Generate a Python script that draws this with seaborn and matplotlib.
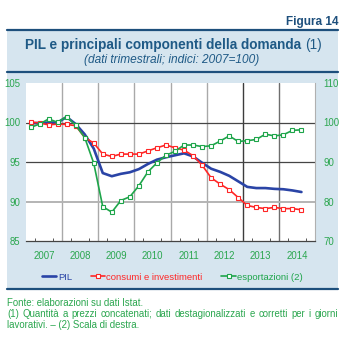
import numpy as np
import pandas as pd
import matplotlib
matplotlib.use("Agg")
import matplotlib.pyplot as plt
from matplotlib.lines import Line2D
from matplotlib.patches import Rectangle
import seaborn as sns

# ---------------- data ----------------
years = ["2007", "2008", "2009", "2010", "2011", "2012", "2013", "2014"]
pil = [99.9, 99.95, 100.0, 100.0, 100.7, 99.8, 98.5, 96.7,
       93.6, 93.2, 93.5, 93.7, 94.1, 94.75, 95.3, 95.6,
       95.85, 96.1, 95.7, 94.9, 94.15, 93.75, 93.25, 92.55,
       91.85, 91.7, 91.7, 91.6, 91.55, 91.4, 91.2]
consumi = [100.05, 99.95, 99.7, 99.8, 99.75, 99.6, 98.1, 97.4,
           96.0, 95.7, 96.0, 96.0, 96.0, 96.4, 96.8, 97.15,
           96.8, 96.5, 95.8, 94.6, 93.0, 92.2, 91.5, 90.5,
           89.5, 89.25, 89.1, 89.25, 89.1, 89.1, 88.95]
esportazioni = [98.75, 99.6, 100.9, 100.05, 101.5, 99.3, 96.2, 89.7,
                78.7, 77.3, 80.25, 81.2, 84.0, 87.5, 89.8, 91.7,
                92.7, 94.3, 94.3, 93.9, 94.1, 95.3, 96.6, 95.2,
                95.4, 95.7, 97.05, 96.6, 96.9, 98.0, 98.15]
left_ticks = [85, 90, 95, 100, 105]
right_ticks = [70, 80, 90, 100, 110]
legend_labels = ["PIL", "consumi e investimenti", "esportazioni (2)"]

# ---------------- style ----------------
sns.set_style("white")
plt.rcParams["font.family"] = ["Liberation Sans", "DejaVu Sans"]

GREEN_TXT = "#2aa64e"
DARK_BLUE = "#1d4f7c"
TITLE_BLUE = "#1f5a86"
PANEL = "#d6e5ef"
C_PIL = "#2a44a6"
C_CONS = "#ff2626"
C_EXP = "#1ea54a"

W, H = 350, 348
fig = plt.figure(figsize=(W / 100, H / 100), dpi=100)
fig.patch.set_facecolor("white")

def fx(px):
    return px / W

def fy(py):
    return 1 - py / H

# panel background and rules
fig.patches.append(Rectangle((fx(7), fy(289)), fx(338) - fx(7), fy(30) - fy(289),
                             transform=fig.transFigure, facecolor=PANEL,
                             edgecolor="none", zorder=-5))
for yy in (30, 72, 289):
    fig.add_artist(Line2D([fx(7), fx(338)], [fy(yy), fy(yy)],
                          transform=fig.transFigure, color=DARK_BLUE, lw=1.6))

# header texts
fig.text(fx(338), fy(22), "Figura 14", ha="right", va="center",
         fontsize=8.5, fontweight="bold", color=DARK_BLUE)

renderer = fig.canvas.get_renderer()
t1 = fig.text(0, fy(45), "PIL e principali componenti della domanda ", ha="left",
              va="center", fontsize=9.8, fontweight="bold", color=TITLE_BLUE)
t2 = fig.text(0, fy(45), "(1)", ha="left", va="center", fontsize=9.8,
              color=TITLE_BLUE)
w1 = t1.get_window_extent(renderer).width
w2 = t2.get_window_extent(renderer).width
start = 173.5 - (w1 + w2) / 2
t1.set_x(fx(start))
t2.set_x(fx(start + w1))
fig.text(fx(171.5), fy(60), "(dati trimestrali; indici: 2007=100)", ha="center",
         va="center", fontsize=8.6, style="italic", color=TITLE_BLUE)

# ---------------- axes ----------------
ax = fig.add_axes([fx(26), fy(241), fx(315) - fx(26), fy(83) - fy(241)])
ax.set_facecolor("white")
ax2 = ax.twinx()
ax2.patch.set_visible(False)

xq = np.arange(len(pil)) + 0.5
df = pd.DataFrame({"x": xq, "pil": pil, "consumi": consumi, "esportazioni": esportazioni})

# grid lines
for k in range(1, 8):
    col = "#a9a9a9"
    if k == 6:
        col = "#3c3c3c"
    elif k == 7:
        col = "#6e6e6e"
    ax.axvline(4 * k, color=col, lw=1.0, zorder=0.5)
ax.axhline(100, color="#454545", lw=0.9, zorder=0.5)
ax.axhline(95, color="#454545", lw=0.9, zorder=0.5)
ax.axhline(90, color="#b4b4b4", lw=1.4, zorder=0.5)

sns.lineplot(data=df, x="x", y="pil", ax=ax, color=C_PIL, lw=1.9, zorder=3)
sns.lineplot(data=df, x="x", y="consumi", ax=ax, color=C_CONS, lw=1.2, marker="s",
             markersize=3.2, markerfacecolor="white", markeredgecolor=C_CONS,
             markeredgewidth=0.8, zorder=4)
sns.lineplot(data=df, x="x", y="esportazioni", ax=ax2, color=C_EXP, lw=1.2,
             marker="s", markersize=3.2, markerfacecolor="white",
             markeredgecolor=C_EXP, markeredgewidth=0.8, zorder=4)

ax.set_xlim(0, 32)
ax.set_ylim(85, 105)
ax2.set_ylim(70, 110)
ax.set_yticks(left_ticks)
ax.set_yticklabels([str(v) for v in left_ticks])
ax2.set_yticks(right_ticks)
ax2.set_yticklabels([str(v) for v in right_ticks])
ax.set_xticks([4 * i + 2 for i in range(len(years))])
ax.set_xticklabels(years)
ax.set_xticks([q for q in range(1, 32) if q % 4 != 0], minor=True)
ax.set_xlabel("")
ax.set_ylabel("")
ax2.set_ylabel("")

ax.tick_params(axis="x", which="major", length=0, pad=7, labelsize=6.9,
               labelcolor=GREEN_TXT)
ax.tick_params(axis="x", which="minor", direction="in", length=2.5, width=0.7,
               color="#555555", bottom=True)
ax.tick_params(axis="y", length=0, pad=4, labelsize=6.9, labelcolor=GREEN_TXT)
ax2.tick_params(axis="y", length=0, pad=6, labelsize=6.9, labelcolor=GREEN_TXT)

for a in (ax, ax2):
    for s in ("top", "left", "right", "bottom"):
        a.spines[s].set_visible(False)
ax.spines["bottom"].set_visible(True)
ax.spines["bottom"].set_color("#444444")
ax.spines["bottom"].set_linewidth(0.9)
ax.spines["right"].set_visible(True)
ax.spines["right"].set_color("#b0b0b0")
ax.spines["right"].set_linewidth(0.8)

# legend
handles = [
    Line2D([], [], color=C_PIL, lw=1.9),
    Line2D([], [], color=C_CONS, lw=1.2, marker="s", markersize=3.2,
           markerfacecolor="white", markeredgecolor=C_CONS, markeredgewidth=0.8),
    Line2D([], [], color=C_EXP, lw=1.2, marker="s", markersize=3.2,
           markerfacecolor="white", markeredgecolor=C_EXP, markeredgewidth=0.8),
]
leg = fig.legend(handles, legend_labels, loc="center", bbox_to_anchor=(fx(172.5), fy(277)),
                 ncol=3, frameon=False, fontsize=6.8, handlelength=1.5,
                 handletextpad=0.15, columnspacing=2.0, numpoints=1,
                 borderaxespad=0, borderpad=0)
for txt, c in zip(leg.get_texts(), [C_PIL, C_CONS, C_EXP]):
    txt.set_color(c)

# footnotes
fs = 6.9
fig.text(fx(7), fy(303), "Fonte: elaborazioni su dati Istat.", ha="left", va="center",
         fontsize=fs, color=GREEN_TXT)
line2 = "(1) Quantità a prezzi concatenati; dati destagionalizzati e corretti per i giorni"
words = line2.split(" ")
probe = fig.text(0, 0, line2, fontsize=fs)
full_w = probe.get_window_extent(renderer).width
extra = max(0.0, (331 - full_w) / (len(words) - 1))
for i, w in enumerate(words):
    prefix = " ".join(words[:i])
    if prefix:
        probe.set_text(prefix + " " + "x")
        wpx = probe.get_window_extent(renderer).width
        probe.set_text("x")
        wpx -= probe.get_window_extent(renderer).width
    else:
        wpx = 0.0
    fig.text(fx(7 + wpx + i * extra), fy(314), w, ha="left", va="center",
             fontsize=fs, color=GREEN_TXT)
probe.remove()
fig.text(fx(7), fy(325), "lavorativi. – (2) Scala di destra.", ha="left", va="center",
         fontsize=fs, color=GREEN_TXT)

fig.savefig("out.png", dpi=100, facecolor="white")
